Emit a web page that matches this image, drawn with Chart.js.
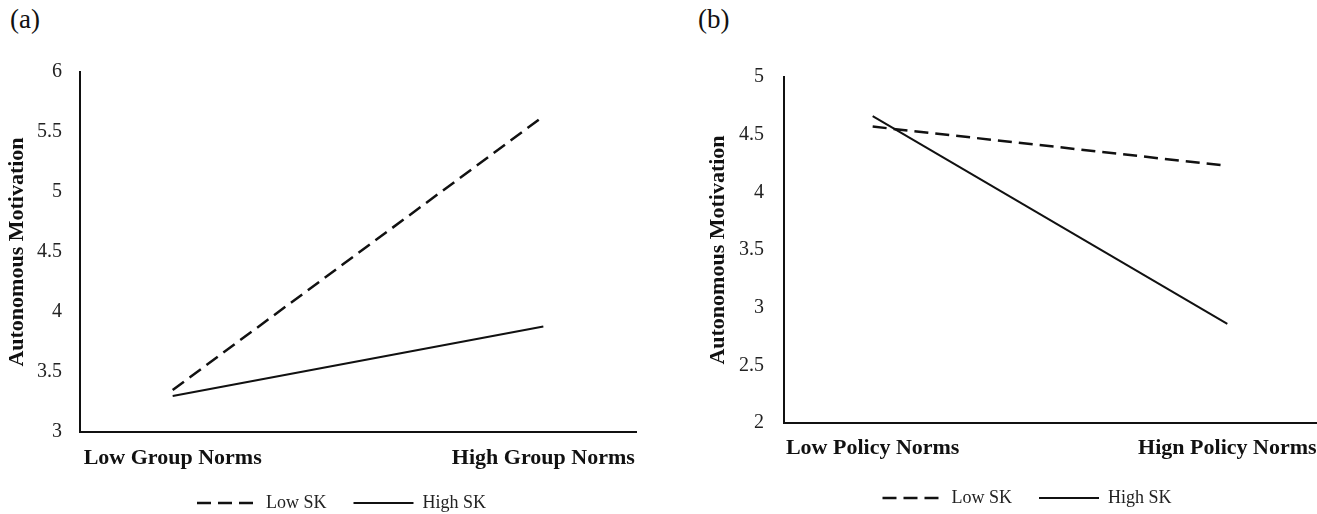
<!DOCTYPE html>
<html>
<head>
<meta charset="utf-8">
<title>Autonomous Motivation</title>
<script src="https://cdn.jsdelivr.net/npm/chart.js@4.4.0/dist/chart.umd.min.js"></script>
<style>
  html, body { margin: 0; padding: 0; background: #fff; overflow: hidden; width: 1317px; height: 514px; position: relative; }
  .panel { position: absolute; top: 0; height: 514px; }
  .tag { position: absolute; top: 4px; font: 27px 'Liberation Serif', 'Times New Roman', serif; color: #111; }
</style>
</head>
<body>
<div class="tag" style="left:10px">(a)</div>
<div class="tag" style="left:698px">(b)</div>
<div class="panel" style="left:1px;width:681px"><canvas id="chartA"></canvas></div>
<div class="panel" style="left:702px;width:650px"><canvas id="chartB"></canvas></div>
<script>
// positions of the two categories on the x axis
const xPos = [0, 1];

// (a) group norms
const catsA = ['Low Group Norms', 'High Group Norms'];
const lowSkA = [3.35, 5.63];
const highSkA = [3.30, 3.88];
const yTicksA = [3, 3.5, 4, 4.5, 5, 5.5, 6];

// (b) policy norms
const catsB = ['Low Policy Norms', 'Hign Policy Norms'];
const lowSkB = [4.57, 4.23];
const highSkB = [4.66, 2.86];
const yTicksB = [2, 2.5, 3, 3.5, 4, 4.5, 5];

const seriesNames = ['Low SK', 'High SK'];

const FONT = "'Liberation Serif', 'Times New Roman', serif";
const INK = '#111';

function points(vals) {
  return xPos.map((x, i) => ({ x, y: vals[i] }));
}

function buildChart(id, p) {
  return new Chart(document.getElementById(id), {
    type: 'line',
    data: {
      datasets: [
        {
          label: seriesNames[0],
          data: points(p.low),
          borderColor: INK,
          borderWidth: 2.5,
          borderDash: [14, 7],
          pointRadius: 0,
          tension: 0,
        },
        {
          label: seriesNames[1],
          data: points(p.high),
          borderColor: INK,
          borderWidth: 2,
          pointRadius: 0,
          tension: 0,
        },
      ],
    },
    options: {
      responsive: true,
      maintainAspectRatio: false,
      animation: false,
      layout: { padding: { top: p.top, bottom: p.padBottom, left: 0, right: 0 } },
      plugins: {
        tooltip: { enabled: false },
        legend: {
          position: 'bottom',
          labels: {
            usePointStyle: true,
            pointStyleWidth: 60,
            padding: 27,
            color: '#222',
            font: { family: FONT, size: 18 },
            // line samples, dashed for Low SK
            generateLabels: chart => chart.data.datasets.map((ds, i) => ({
              text: ds.label,
              pointStyle: 'line',
              rotation: 0,
              lineDash: ds.borderDash || [],
              lineWidth: ds.borderWidth,
              strokeStyle: ds.borderColor,
              fillStyle: ds.borderColor,
              fontColor: '#222',
              datasetIndex: i,
              hidden: false,
            })),
          },
        },
      },
      scales: {
        x: {
          type: 'linear',
          min: -0.25,
          max: 1.25,
          afterBuildTicks: s => { s.ticks = xPos.map(v => ({ value: v })); },
          afterFit: s => { s.height = p.xHeight; },
          grid: { drawOnChartArea: false, drawTicks: false },
          border: { color: INK, width: 2 },
          ticks: {
            padding: p.xPad,
            mirror: p.xMirror,
            color: INK,
            maxRotation: 0,
            autoSkip: false,
            font: { family: FONT, size: 22, weight: 'bold' },
            callback: (v, i) => p.cats[i],
          },
        },
        y: {
          min: p.yTicks[0],
          max: p.yTicks[p.yTicks.length - 1],
          afterBuildTicks: s => { s.ticks = p.yTicks.map(v => ({ value: v })); },
          afterFit: s => { s.width = p.yWidth; },
          grid: { drawOnChartArea: false, drawTicks: false },
          border: { color: INK, width: 2 },
          ticks: {
            padding: p.yPad,
            color: '#222',
            font: { family: FONT, size: 20 },
            callback: v => String(v),
          },
          title: {
            display: true,
            text: 'Autonomous Motivation',
            color: INK,
            padding: { top: 3, bottom: 4 },
            font: { family: FONT, size: 22, weight: 'bold' },
          },
        },
        // empty box on the right so the legend centres where the original does
        y2: {
          position: 'right',
          grid: { display: false },
          border: { display: false },
          ticks: { display: false },
          afterFit: s => { s.width = p.rightGap; },
        },
      },
    },
  });
}

// mirrored x labels are not clipped to the axis box, so they can sit close to the legend
buildChart('chartA', {
  cats: catsA, low: lowSkA, high: highSkA, yTicks: yTicksA,
  top: 72, padBottom: -8, xHeight: 35, xPad: -40, xMirror: true, yWidth: 79, yPad: 18, rightGap: 46,
});

buildChart('chartB', {
  cats: catsB, low: lowSkB, high: highSkB, yTicks: yTicksB,
  top: 77, padBottom: -3, xHeight: 39, xPad: 12, xMirror: false, yWidth: 82, yPad: 20, rightGap: 36,
});
</script>
</body>
</html>
